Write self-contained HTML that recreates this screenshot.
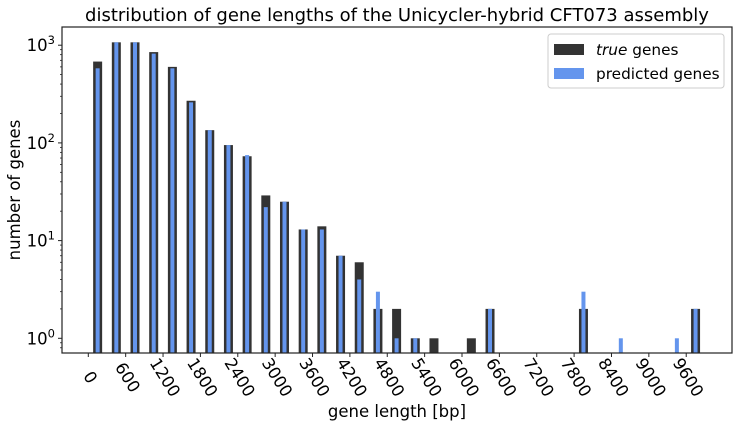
<!DOCTYPE html>
<html><head><meta charset="utf-8"><style>
body{margin:0;background:#fff;}
svg{display:block;font-family:"DejaVu Sans","Liberation Sans",sans-serif;}
</style></head><body>
<svg id="chart" width="738" height="427" viewBox="0 0 738 427">
<text x="397" y="21" font-size="18" text-anchor="middle" fill="#000">distribution of gene lengths of the Unicycler-hybrid CFT073 assembly</text>
<g id="bars"></g>
<g id="axes"></g>
<rect x="62" y="27" width="670" height="326" fill="none" stroke="#222" stroke-width="1.2"/>
<text x="397" y="417" font-size="16.5" text-anchor="middle">gene length [bp]</text>
<text transform="translate(20,190) rotate(-90)" font-size="16.5" text-anchor="middle">number of genes</text>
<g>
<rect x="548" y="34" width="176" height="54" rx="3" fill="#fff" stroke="#ccc"/>
<rect x="554" y="44" width="30" height="11" fill="#333333"/>
<text x="596" y="55" font-size="15.3"><tspan font-style="italic">true</tspan> genes</text>
<rect x="554" y="68" width="30" height="11" fill="#6495ed"/>
<text x="596" y="79" font-size="15.3">predicted genes</text>
</g>
</svg>
<script>
const binCenters = [150,450,750,1050,1350,1650,1950,2250,2550,2850,3150,3450,3750,4050,4350,4650,4950,5250,5550,6150,6450,7950,8550,9450,9750];
const trueCounts = [680,1070,1070,850,600,270,135,95,73,29,25,13,14,7,6,2,2,1,1,1,2,2,0,0,2];
const predCounts = [580,1070,1070,820,580,260,135,95,75,22,25,13,13,7,4,3,1,1,0,0,2,3,1,1,2];
const xTicks = [0,600,1200,1800,2400,3000,3600,4200,4800,5400,6000,6600,7200,7800,8400,9000,9600];
const yDecades = [0,1,2,3];

const NS = "http://www.w3.org/2000/svg";
const X0 = 88.3, XS = 37.37/600;
const x = v => X0 + v*XS;
const Y0 = 338.3, YS = 97.7;
const y = v => Y0 - Math.log10(v)*YS;
const BOTTOM = 353;
function mk(tag, attrs, parent){const e=document.createElementNS(NS,tag);for(const k in attrs)e.setAttribute(k,attrs[k]);parent.appendChild(e);return e;}
const bars = document.getElementById('bars');
const axes = document.getElementById('axes');
binCenters.forEach((c,i)=>{
  if(trueCounts[i]>0){
    const r = mk('rect',{x:x(c)-4.5,y:y(trueCounts[i]),width:9,height:BOTTOM-y(trueCounts[i]),fill:'#333333'},bars);
    
    
  }
});
binCenters.forEach((c,i)=>{
  if(predCounts[i]>0){
    const r = mk('rect',{x:x(c)-2,y:y(predCounts[i]),width:4,height:BOTTOM-y(predCounts[i]),fill:'#6495ed'},bars);
    
    
  }
});
xTicks.forEach(t=>{
  const tx = x(t);
  mk('line',{x1:tx,x2:tx,y1:353,y2:357,stroke:'#222'},axes);
  const lb = mk('text',{transform:`translate(${tx+1},378) rotate(58)`,'font-size':16.5,'text-anchor':'middle','dominant-baseline':'middle'},axes);
  lb.textContent = t;
  
  
});
yDecades.forEach(d=>{
  const ty = y(Math.pow(10,d));
  mk('line',{x1:58,x2:62,y1:ty,y2:ty,stroke:'#222'},axes);
  const lb = mk('text',{x:55,y:ty+6,'font-size':16.5,'text-anchor':'end'},axes);
  lb.innerHTML = '10<tspan dy="-7" font-size="11.5">'+d+'</tspan>';
  
  
});
for(let d=-1; d<=3; d++){
  for(let m=2;m<=9;m++){
    const v = m*Math.pow(10,d);
    const ty = y(v);
    if(ty<27||ty>353) continue;
    mk('line',{x1:60,x2:62,y1:ty,y2:ty,stroke:'#222','stroke-width':0.8},axes);
  }
}
</script>
</body></html>
